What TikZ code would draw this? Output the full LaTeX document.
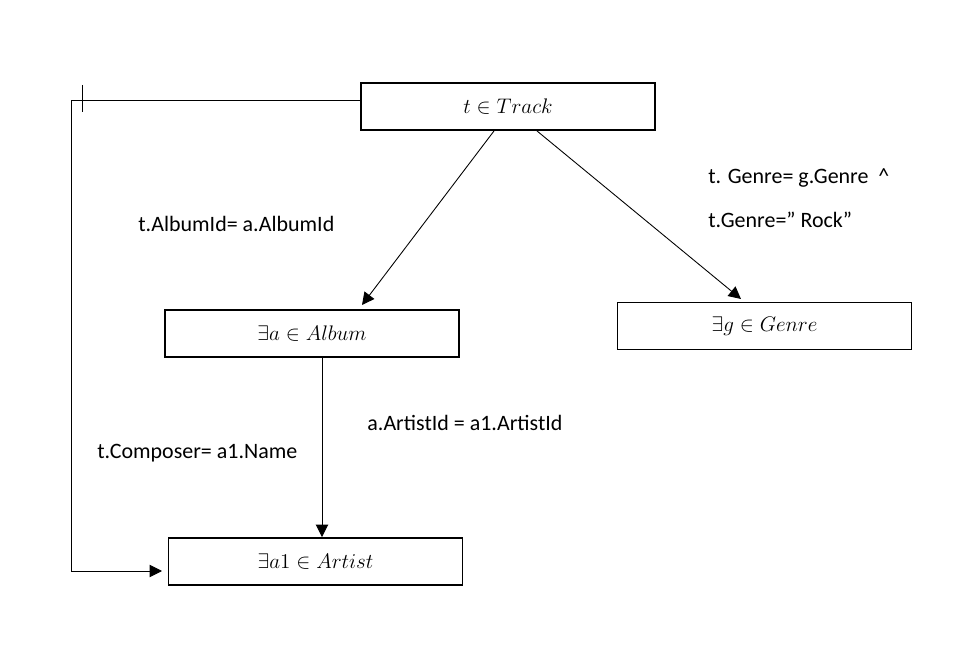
\documentclass[tikz,border=0pt]{standalone}
\usepackage{fontspec}
\setmainfont{Carlito}
\usepackage{amsmath}
\usetikzlibrary{positioning, arrows.meta}

\begin{document}
\begin{tikzpicture}[
    every node/.style={font=\fontsize{12.5}{15}\selectfont},
    relation/.style={draw, rectangle, line width=1.1pt, minimum width=5.88cm,
                  minimum height=0.94cm, align=center, inner sep=2pt,
                  font=\fontsize{12.7}{15}\selectfont},
    arrow/.style={-{Triangle[length=7pt, width=7pt]}, line width=0.5pt},
    cond/.style={anchor=west, inner sep=0pt}
]
\useasboundingbox (0,0) rectangle (19.5,-13.14);

% Relations
\node[relation] (track) at (10.16,-2.13) {$t \in Track$};
\node[relation] (album) at (6.24,-6.67) {$\exists a \in Album$};
\node[relation] (genre) at (15.29,-6.52) {$\exists g \in Genre$};
\node[relation] (artist) at (6.31,-11.23) {$\exists a1 \in Artist$};

% Joins
\draw[arrow] (track.south) ++(-0.28,0) coordinate (ta) -- (7.24,-6.1);
\draw[arrow] (track.south) ++(0.58,0) coordinate (tg) -- (14.82,-5.98);
\draw[arrow] (album.south) ++(0.2,0) coordinate (aa) -- (aa |- artist.north);
\coordinate (corner) at (1.42,-2.0);
\coordinate (entry) at (3.24,-11.42);
\draw[arrow] (track.west |- corner) -- (corner) |- (entry);
\draw[line width=0.5pt] (1.64,-1.7) -- (1.64,-2.24);

% Conditions
\node[cond] (c1) at (2.76,-4.48) {t.AlbumId= a.AlbumId};
\node[cond] (c2) at (14.16,-3.55) {t. Genre= g.Genre\ \ \^{}};
\node[cond] (c3) at (14.16,-4.4) {t.Genre=” Rock”};
\node[cond] (c4) at (7.34,-8.46) {a.ArtistId = a1.ArtistId};
\node[cond] (c5) at (1.94,-9.06) {t.Composer= a1.Name};

\end{tikzpicture}
\end{document}
